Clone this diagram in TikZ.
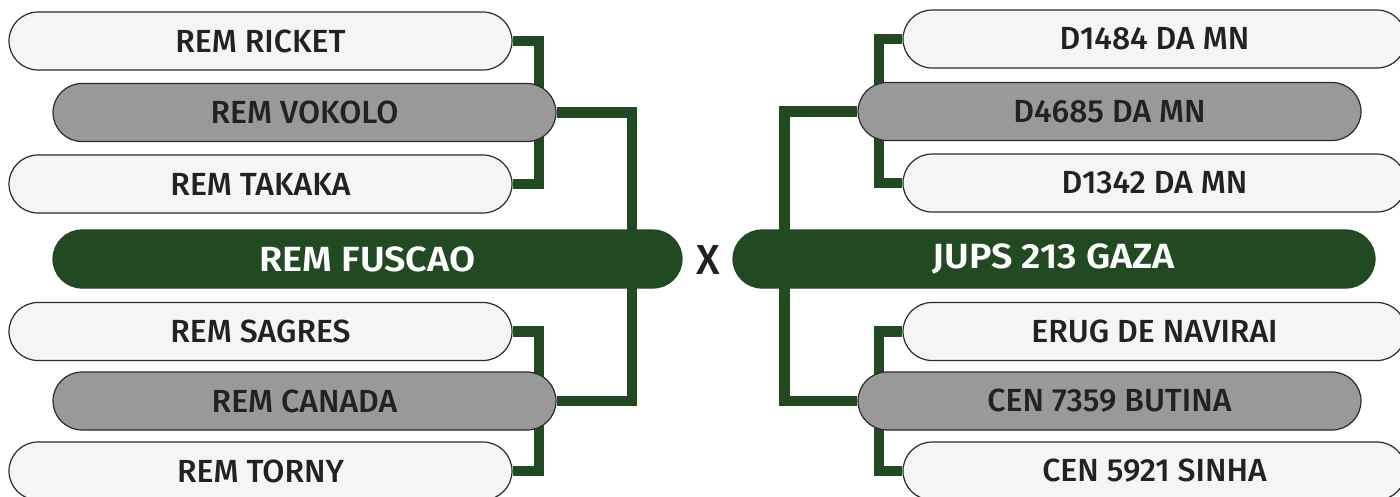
\documentclass[tikz,border=0pt]{standalone}
\usepackage{fontspec}
\setmainfont{Fira Sans}[UprightFont=* Medium, BoldFont=* SemiBold]
\usetikzlibrary{calc}
\definecolor{dkgreen}{HTML}{224A22}
\definecolor{boxgray}{HTML}{999999}
\definecolor{boxwhite}{HTML}{F5F5F3}
\definecolor{edge}{HTML}{2B2B2B}
\definecolor{txt}{HTML}{222222}
\pgfdeclarelayer{bg}
\pgfdeclarelayer{paper}
\pgfsetlayers{paper,bg,main}
\tikzset{
  pill/.style={rectangle, rounded corners=29pt, minimum width=503pt, minimum height=58pt,
    draw=edge, line width=1.2pt, inner sep=0pt, text=txt,
    font=\fontsize{32}{32}\selectfont},
  pillw/.style={pill, fill=boxwhite},
  pillg/.style={pill, fill=boxgray},
  pillm/.style={pill, fill=dkgreen, draw=dkgreen, text=white,
    font=\fontsize{35}{35}\selectfont\bfseries\addfontfeatures{FakeStretch=1.08}},
  link/.style={draw=dkgreen, line width=10.5pt, line join=miter},
}
\begin{document}
\begin{tikzpicture}[x=1pt,y=-1pt]
\useasboundingbox (0,0) rectangle (1400,496);
\begin{pgfonlayer}{paper}
\fill[white] (0,0) rectangle (1400,496);
\end{pgfonlayer}
% left
\node[pillw] (l1) at (260.5,41) {REM RICKET};
\node[pillg] (l2) at (304.5,112.5) {REM VOKOLO};
\node[pillw] (l3) at (260.5,184) {REM TAKAKA};
\node[pillm, minimum width=629pt] (lf) at (367.5,259) {REM FUSCAO};
\node[pillw] (l4) at (260.5,331.5) {REM SAGRES};
\node[pillg] (l5) at (304.5,401) {REM CANADA};
\node[pillw] (l6) at (260.5,471) {REM TORNY};
% right
\node[pillw] (r1) at (1154.5,39) {D1484 DA MN};
\node[pillg] (r2) at (1109.5,111.5) {D4685 DA MN};
\node[pillw] (r3) at (1154.5,183) {D1342 DA MN};
\node[pillm, minimum width=642pt] (rf) at (1054,259) {JUPS 213 GAZA};
\node[pillw] (r4) at (1154.5,331.5) {ERUG DE NAVIRAI};
\node[pillg] (r5) at (1109.5,401) {CEN 7359 BUTINA};
\node[pillw] (r6) at (1154.5,471) {CEN 5921 SINHA};
% versus
\node[text=txt, font=\fontsize{42}{42}\selectfont] (vs) at (708,260) {X};
% connectors
\begin{pgfonlayer}{bg}
\draw[link] (l1.east) -- ++(26.5,0) |- (l3.east);
\draw[link] (l2.east) -- ++(75.5,0) |- (l5.east);
\draw[link] (l4.east) -- ++(26.5,0) |- (l6.east);
\draw[link] (r1.west) -- ++(-23.5,0) |- (r3.west);
\draw[link] (r2.west) -- ++(-73,0) |- (r5.west);
\draw[link] (r4.west) -- ++(-23.5,0) |- (r6.west);
\end{pgfonlayer}
\end{tikzpicture}
\end{document}
